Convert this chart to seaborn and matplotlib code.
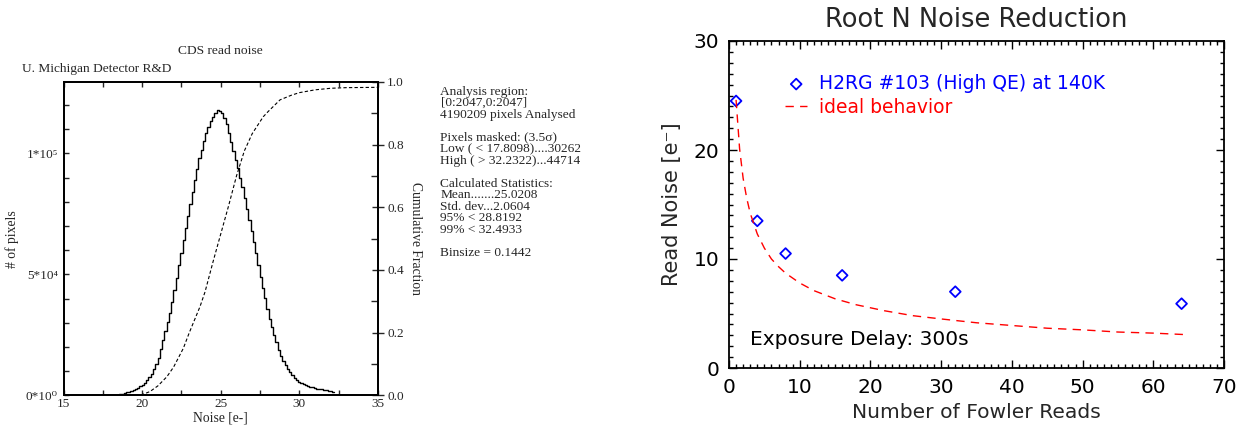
import numpy as np
import pandas as pd
import matplotlib
matplotlib.use("Agg")
import matplotlib.pyplot as plt
import seaborn as sns
from matplotlib.ticker import MultipleLocator

# ---- left panel: CDS read noise histogram ----
bin_start = 17.8098
bin_size = 0.1442
# pixels per bin, in thousands
hist_counts_k = [
    0.05, 0.1, 0.15, 0.2, 0.3, 0.45, 0.65, 0.9, 1.2, 1.5,
    1.9, 2.3, 2.7, 3.2, 3.7, 4.3, 5.2, 6.3, 7.5, 9.0,
    11.0, 13.0, 15.5, 19.0, 23.0, 26.5, 30.3, 34.2, 38.5, 43.5,
    48.5, 54.0, 59.0, 64.0, 69.0, 74.0, 79.0, 84.0, 89.0, 93.5,
    98.0, 101.5, 105.0, 108.3, 110.8, 113.3, 115.2, 116.8, 117.8, 117.6,
    116.6, 114.7, 112.2, 108.5, 104.8, 101.0, 97.3, 93.8, 90.0, 86.2,
    81.5, 77.0, 72.5, 68.0, 63.5, 58.8, 54.0, 49.0, 44.5, 40.3,
    35.8, 31.6, 28.3, 25.1, 22.0, 18.9, 16.3, 14.2, 12.5, 11.0,
    9.6, 8.4, 7.2, 6.2, 5.5, 5.0, 4.5, 4.2, 3.9, 3.6,
    3.3, 3.0, 2.8, 2.6, 2.4, 2.2, 2.1, 1.9, 1.7, 1.5,
]
cum_noise = [17.8, 19.0, 20.0, 20.5, 21.0, 21.57, 22.0, 22.62, 23.0, 23.68, 24.0,
             24.53, 25.0, 25.5, 26.0, 26.5, 27.0, 27.7, 28.0, 28.77, 29.5, 30.0,
             31.0, 32.0, 33.0, 35.0]
cum_frac = [0.0, 0.0, 0.002, 0.012, 0.03, 0.059, 0.09, 0.15, 0.20, 0.283, 0.33,
            0.43, 0.515, 0.605, 0.70, 0.78, 0.835, 0.889, 0.905, 0.943, 0.958, 0.966,
            0.975, 0.98, 0.982, 0.983]
count_ticks = [0, 5e4, 1e5]
count_labels = ["0*10⁰", "5*10⁴", "1*10⁵"]
stats_lines = [
    "Analysis region:", "[0:2047,0:2047]", "4190209 pixels Analysed", "",
    "Pixels masked: (3.5σ)", "Low ( < 17.8098)....30262", "High ( > 32.2322)...44714", "",
    "Calculated Statistics:", "Mean.......25.0208", "Std. dev...2.0604",
    "95% < 28.8192", "99% < 32.4933", "",
    "Binsize = 0.1442",
]

# ---- right panel: root N noise reduction ----
fowler_reads = [1, 4, 8, 16, 32, 64]
read_noise = [24.5, 13.5, 10.5, 8.5, 7.0, 5.9]
ideal_reads = [1, 1.5, 2, 2.5, 3, 4, 5, 6, 7, 8, 10, 12, 15, 18, 22, 26,
               30, 35, 40, 45, 50, 55, 60, 65]
ideal_noise = [24.6, 20.1, 17.4, 15.6, 14.2, 12.3, 11.0, 10.0, 9.3, 8.7, 7.8, 7.1,
               6.35, 5.8, 5.25, 4.8, 4.5, 4.15, 3.9, 3.65, 3.5, 3.3, 3.2, 3.05]

sns.set_theme(style="ticks")
plt.rcParams["font.family"] = ["DejaVu Sans"]
serif = ["Liberation Serif", "DejaVu Serif"]

W, H = 1244, 426
fig = plt.figure(figsize=(W / 100, H / 100), dpi=100)

def box(x0, y0, x1, y1):
    return [x0 / W, 1 - y1 / H, (x1 - x0) / W, (y1 - y0) / H]

# ---------------- left ----------------
ax1 = fig.add_axes(box(63.5, 82, 378, 395.3))
edges = bin_start + bin_size * np.arange(len(hist_counts_k) + 1)
hist_df = pd.DataFrame({"noise": edges[:-1] + bin_size / 2,
                        "pixels": np.array(hist_counts_k) * 1000})
sns.histplot(data=hist_df, x="noise", weights="pixels", bins=list(edges),
             element="step", fill=False, color="black", lw=1.0, ax=ax1)
ax1.set_xlim(15, 35)
ax1.set_ylim(0, 1.295e5)
ax1.set_yticks(count_ticks, labels=count_labels)
ax1.yaxis.set_minor_locator(MultipleLocator(1e4))
ax1.xaxis.set_major_locator(MultipleLocator(5))
ax1.xaxis.set_minor_locator(MultipleLocator(2.5))
ax1.tick_params(axis="x", which="both", direction="in", top=True, length=3.5, width=1,
                labelsize=9.5, labelfontfamily=serif, pad=2)
ax1.tick_params(axis="y", which="both", direction="in", right=True, length=3.6,
                width=1, labelsize=9.5, labelfontfamily=serif, pad=4)
ax1.set_xlabel("Noise [e-]", family=serif, fontsize=9.8)
ax1.xaxis.set_label_coords(0.5, -0.053)
ax1.set_ylabel("# of pixels", family=serif, fontsize=9.8)
ax1.yaxis.set_label_coords(-0.14, 0.5)
for s in ax1.spines.values():
    s.set_linewidth(1.3)
    s.set_color("black")

ax2 = ax1.twinx()
sns.lineplot(x=cum_noise, y=cum_frac, ax=ax2, color="black", lw=0.8,
             linestyle=(0, (3, 2)))
ax2.set_ylim(0, 1.0)
ax2.yaxis.set_major_locator(MultipleLocator(0.2))
ax2.yaxis.set_minor_locator(MultipleLocator(0.1))
ax2.yaxis.set_major_formatter("{x:.1f}")
ax2.tick_params(axis="y", which="major", direction="inout", length=9, width=1,
                labelsize=9.5, labelfontfamily=serif, pad=2)
ax2.tick_params(axis="y", which="minor", direction="in", length=5, width=1)
ax2.set_ylabel("Cumulative Fraction", family=serif, fontsize=9.8, rotation=-90,
               va="center")
ax2.yaxis.set_label_coords(1.118, 0.5)
for s in ax2.spines.values():
    s.set_linewidth(1.3)
    s.set_color("black")

fig.text(220 / W, 1 - 50.7 / H, "CDS read noise", family=serif, fontsize=9.7,
         ha="center", va="center")
fig.text(22 / W, 1 - 69 / H, "U. Michigan Detector R&D", family=serif, fontsize=9.6,
         ha="left", va="center")
for i, line in enumerate(stats_lines):
    if line:
        fig.text(440.5 / W, 1 - (91.7 + 11.5 * i) / H, line, family=serif,
                 fontsize=9.6, ha="left", va="center")

# ---------------- right ----------------
ax3 = fig.add_axes(box(729, 41, 1224, 368))
sns.lineplot(x=ideal_reads, y=ideal_noise, ax=ax3, color="red", lw=1.0,
             linestyle=(0, (6, 4.5)), label="ideal behavior")
sns.scatterplot(x=fowler_reads, y=read_noise, ax=ax3, marker="D", s=30,
                color="blue", fc="none", ec="blue", linewidth=1.3,
                label="H2RG #103 (High QE) at 140K")
ax3.set_xlim(0, 70)
ax3.set_ylim(0, 30)
ax3.xaxis.set_major_locator(MultipleLocator(10))
ax3.xaxis.set_minor_locator(MultipleLocator(1))
ax3.yaxis.set_major_locator(MultipleLocator(10))
ax3.yaxis.set_minor_locator(MultipleLocator(1))
ax3.tick_params(which="both", direction="in", top=True, right=True, width=1,
                labelsize=14.5, colors="black")
ax3.tick_params(which="major", length=6, pad=7)
ax3.tick_params(which="minor", length=3)
ax3.set_xlabel("Number of Fowler Reads", fontsize=14.6)
ax3.xaxis.set_label_coords(0.5, -0.108)
ax3.set_ylabel("Read Noise [e⁻]", fontsize=15)
ax3.yaxis.set_label_coords(-0.095, 0.5)
for s in ax3.spines.values():
    s.set_linewidth(1.3)
    s.set_color("black")

handles, labels = ax3.get_legend_handles_labels()
ax3.legend(handles[::-1], labels[::-1], loc="upper left",
           bbox_to_anchor=(0.113, 0.899), frameon=False, fontsize=13.5,
           labelcolor=["blue", "red"], handlelength=1.2, handletextpad=0.6,
           borderpad=0, borderaxespad=0, labelspacing=0.25)
ax3.text(0.042, 0.086, "Exposure Delay: 300s", transform=ax3.transAxes,
         fontsize=14.5, ha="left", va="center", color="black")
fig.text(976 / W, 1 - 20 / H, "Root N Noise Reduction", fontsize=18.5,
         ha="center", va="center")

fig.savefig("out.png", dpi=100)
